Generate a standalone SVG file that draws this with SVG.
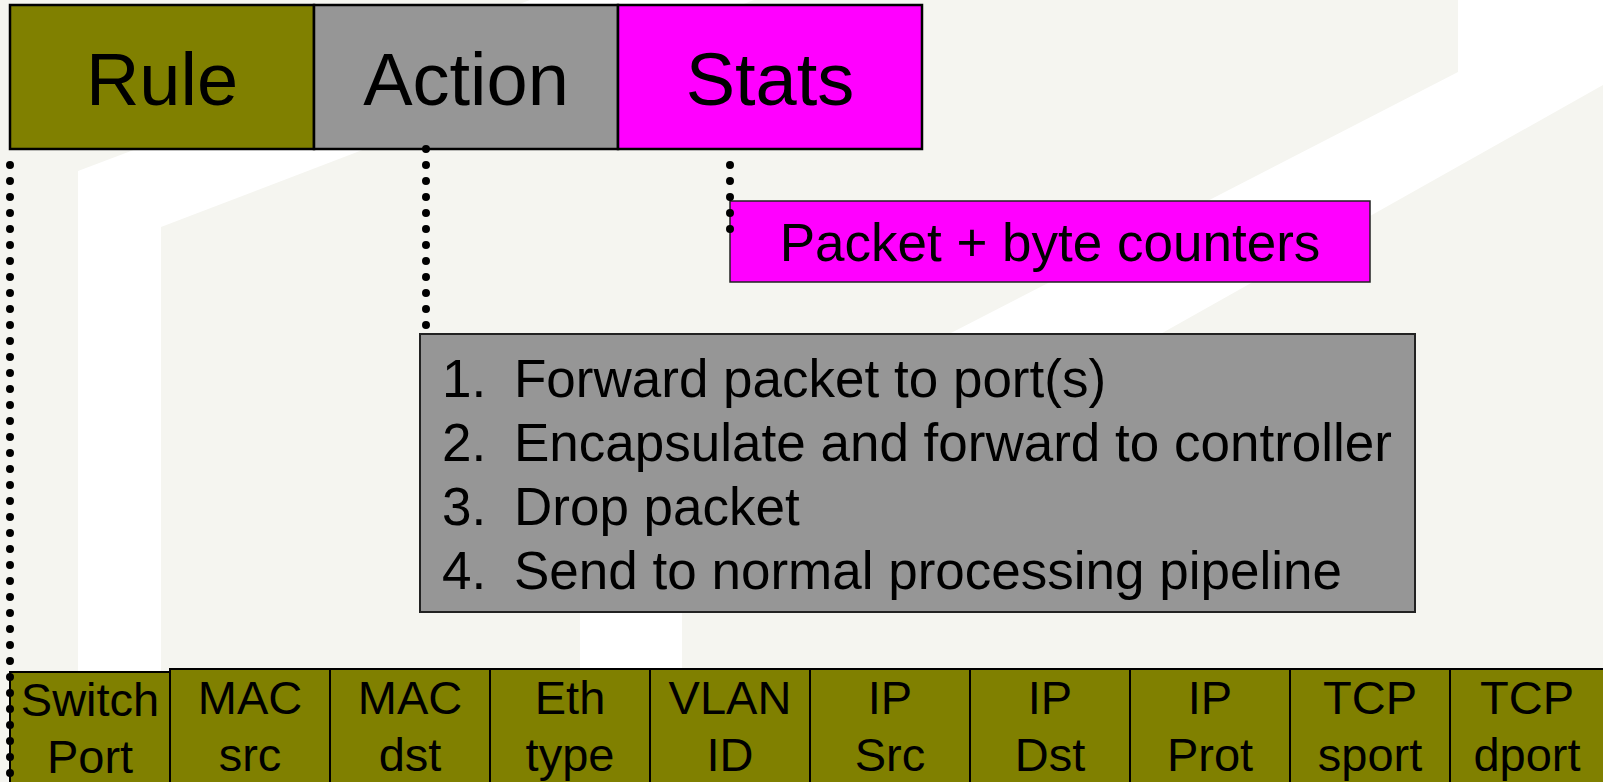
<svg xmlns="http://www.w3.org/2000/svg" width="1603" height="782" viewBox="0 0 1603 782">
<defs>
<style>
.t{font-family:"Liberation Sans",Arial,sans-serif;fill:#000}
.big{font-size:74px;text-anchor:middle}
.mid{font-size:53px}
.cell{font-size:47px;text-anchor:middle}
.olive{fill:#808000}
.grey{fill:#969696}
.mag{fill:#FF00FF}
.bd{stroke:#000;stroke-width:2.5}
.bd2{stroke:#000;stroke-width:2}
.dots{fill:none;stroke:#000;stroke-width:8;stroke-linecap:round;stroke-dasharray:0 16}
</style>
</defs>
<g id="background">
<rect x="0" y="0" width="1603" height="782" fill="#F5F5F0"/>
<polygon points="78,782 78,171 530,0 754,0 161,227 161,782" fill="#FFFFFF"/>
<polygon points="1458,0 1603,0 1603,85 682,603 682,782 580,782 580,524 1458,72" fill="#FFFFFF"/>
</g>
<g id="rule">
<rect x="10" y="5" width="304" height="144" class="olive bd"/>
<text x="162" y="105" class="t big">Rule</text>
</g>
<g id="action">
<rect x="314" y="5" width="304" height="144" class="grey bd"/>
<text x="466" y="105" class="t big">Action</text>
</g>
<g id="stats">
<rect x="618" y="5" width="304" height="144" class="mag bd"/>
<text x="770" y="105" class="t big">Stats</text>
</g>
<g id="counters">
<rect x="730" y="201" width="640" height="81" class="mag" stroke="#222" stroke-width="1.5"/>
<text x="1050" y="261" class="t mid" text-anchor="middle">Packet + byte counters</text>
</g>
<g id="actions-list">
<rect x="420" y="334" width="995" height="278" class="grey" stroke="#222" stroke-width="2"/>
<text x="442" y="397" class="t mid">1.</text><text x="514" y="397" class="t mid">Forward packet to port(s)</text>
<text x="442" y="461" class="t mid">2.</text><text x="514" y="461" class="t mid">Encapsulate and forward to controller</text>
<text x="442" y="525" class="t mid">3.</text><text x="514" y="525" class="t mid">Drop packet</text>
<text x="442" y="589" class="t mid">4.</text><text x="514" y="589" class="t mid">Send to normal processing pipeline</text>
</g>
<g id="switch-port">
<rect x="10" y="672" width="160" height="130" class="olive bd2"/>
<text x="90" y="716" class="t cell">Switch</text><text x="90" y="773" class="t cell">Port</text>
</g>
<g id="mac-src">
<rect x="170" y="669" width="160" height="130" class="olive bd2"/>
<text x="250" y="714" class="t cell">MAC</text><text x="250" y="771" class="t cell">src</text>
</g>
<g id="mac-dst">
<rect x="330" y="669" width="160" height="130" class="olive bd2"/>
<text x="410" y="714" class="t cell">MAC</text><text x="410" y="771" class="t cell">dst</text>
</g>
<g id="eth-type">
<rect x="490" y="669" width="160" height="130" class="olive bd2"/>
<text x="570" y="714" class="t cell">Eth</text><text x="570" y="771" class="t cell">type</text>
</g>
<g id="vlan-id">
<rect x="650" y="669" width="160" height="130" class="olive bd2"/>
<text x="730" y="714" class="t cell">VLAN</text><text x="730" y="771" class="t cell">ID</text>
</g>
<g id="ip-src">
<rect x="810" y="669" width="160" height="130" class="olive bd2"/>
<text x="890" y="714" class="t cell">IP</text><text x="890" y="771" class="t cell">Src</text>
</g>
<g id="ip-dst">
<rect x="970" y="669" width="160" height="130" class="olive bd2"/>
<text x="1050" y="714" class="t cell">IP</text><text x="1050" y="771" class="t cell">Dst</text>
</g>
<g id="ip-prot">
<rect x="1130" y="669" width="160" height="130" class="olive bd2"/>
<text x="1210" y="714" class="t cell">IP</text><text x="1210" y="771" class="t cell">Prot</text>
</g>
<g id="tcp-sport">
<rect x="1290" y="669" width="160" height="130" class="olive bd2"/>
<text x="1370" y="714" class="t cell">TCP</text><text x="1370" y="771" class="t cell">sport</text>
</g>
<g id="tcp-dport">
<rect x="1450" y="669" width="160" height="130" class="olive bd2"/>
<text x="1527" y="714" class="t cell">TCP</text><text x="1527" y="771" class="t cell">dport</text>
</g>
<g id="connectors">
<line x1="10" y1="165" x2="10" y2="780" class="dots"/>
<line x1="426" y1="149" x2="426" y2="330" class="dots"/>
<line x1="730" y1="165" x2="730" y2="235" class="dots"/>
</g>
</svg>
